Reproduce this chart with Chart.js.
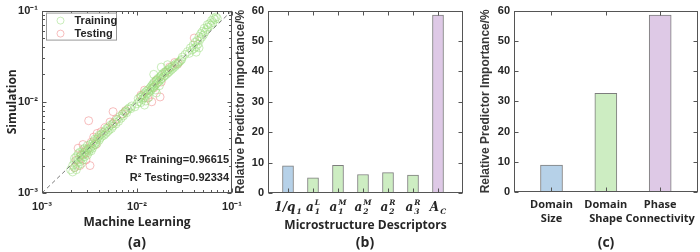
<!DOCTYPE html>
<html>
<head>
<meta charset="utf-8">
<script src="https://cdn.jsdelivr.net/npm/chart.js@4.4.1/dist/chart.umd.min.js"></script>
<style>
  body { margin: 0; background: #fff; }
  #wrap { position: relative; width: 700px; height: 252px; overflow: hidden; }
  canvas { position: absolute; left: 0; top: 0; }
  .tag { position: absolute; top: 232px; width: 60px; text-align: center; font: bold 14px "Open Sans"; color: #262626; }
</style>
</head>
<body>
<div id="wrap">
  <canvas id="ca" width="700" height="252"></canvas>
  <canvas id="cb" width="700" height="252"></canvas>
  <canvas id="cc" width="700" height="252"></canvas>
  <div class="tag" style="left:107px">(a)</div>
  <div class="tag" style="left:335px">(b)</div>
  <div class="tag" style="left:576px">(c)</div>
</div>
<script>
// ---- panel (a) data: [machine learning, simulation]
const trainPts = [
  [0.0020,0.0018],[0.0021,0.0017],[0.0021,0.0020],[0.0022,0.0019],[0.0022,0.0022],[0.0022,0.0024],[0.0023,0.0018],[0.0023,0.0021],
  [0.0023,0.0025],[0.0024,0.0020],[0.0024,0.0023],[0.0024,0.0027],[0.0025,0.0022],[0.0025,0.0025],[0.0025,0.0028],[0.0026,0.0021],
  [0.0026,0.0024],[0.0026,0.0027],[0.0027,0.0023],[0.0027,0.0026],[0.0027,0.0030],[0.0028,0.0025],[0.0028,0.0028],[0.0028,0.0031],
  [0.0029,0.0027],[0.0029,0.0030],[0.0030,0.0026],[0.0030,0.0029],[0.0030,0.0033],[0.0031,0.0028],[0.0031,0.0031],[0.0032,0.0030],
  [0.0032,0.0034],[0.0033,0.0029],[0.0033,0.0032],[0.0034,0.0031],[0.0034,0.0035],[0.0035,0.0033],[0.0035,0.0037],[0.0036,0.0034],
  [0.0036,0.0039],[0.0037,0.0036],[0.0038,0.0035],[0.0038,0.0039],[0.0039,0.0041],[0.0040,0.0038],[0.0040,0.0043],[0.0041,0.0040],
  [0.0042,0.0044],[0.0043,0.0042],[0.0044,0.0046],[0.0045,0.0043],
  [0.0046,0.0048],[0.0047,0.0045],[0.0048,0.0051],[0.0049,0.0047],[0.0050,0.0052],[0.0051,0.0049],[0.0052,0.0055],[0.0054,0.0051],
  [0.0055,0.0057],[0.0056,0.0054],[0.0058,0.0060],[0.0060,0.0057],[0.0062,0.0064],[0.0064,0.0061],[0.0066,0.0069],[0.0068,0.0066],
  [0.0070,0.0073],[0.0072,0.0070],[0.0074,0.0077],[0.0076,0.0079],[0.0078,0.0076],[0.0080,0.0083],[0.0083,0.0086],[0.0086,0.0084],
  [0.0088,0.0090],
  [0.0095,0.0088],[0.0100,0.0095],[0.0103,0.0108],[0.0105,0.0100],[0.0108,0.0112],[0.0110,0.0098],[0.0112,0.0115],[0.0114,0.0106],
  [0.0116,0.0120],[0.0118,0.0110],[0.0120,0.0125],[0.0122,0.0116],[0.0124,0.0102],[0.0125,0.0130],[0.0127,0.0121],[0.0130,0.0135],
  [0.0132,0.0126],[0.0134,0.0112],[0.0136,0.0140],[0.0138,0.0131],[0.0140,0.0146],[0.0142,0.0137],[0.0144,0.0152],[0.0146,0.0142],
  [0.0148,0.0158],[0.0150,0.0146],[0.0152,0.0165],[0.0154,0.0151],[0.0156,0.0135],[0.0158,0.0170],[0.0160,0.0157],[0.0163,0.0176],
  [0.0165,0.0162],[0.0168,0.0182],[0.0170,0.0167],[0.0172,0.0150],[0.0175,0.0188],[0.0178,0.0174],[0.0180,0.0195],[0.0183,0.0180],
  [0.0186,0.0202],[0.0190,0.0187],[0.0193,0.0210],[0.0196,0.0193],[0.0200,0.0215],[0.0204,0.0200],[0.0208,0.0222],[0.0212,0.0207],
  [0.0216,0.0228],[0.0220,0.0215],[0.0225,0.0236],[0.0230,0.0224],[0.0235,0.0245],[0.0240,0.0233],[0.0246,0.0252],[0.0252,0.0244],
  [0.0258,0.0262],[0.0265,0.0256],[0.0272,0.0270],[0.0280,0.0275],[0.0288,0.0283],[0.0296,0.0292],[0.0300,0.0310],
  [0.0180,0.0240],[0.0150,0.0200],[0.0120,0.0092],[0.0160,0.0125],[0.0210,0.0255],
  [0.0320,0.0330],[0.0340,0.0355],[0.0355,0.0340],[0.0365,0.0390],[0.0380,0.0370],[0.0390,0.0420],[0.0400,0.0385],[0.0410,0.0450],
  [0.0420,0.0400],[0.0430,0.0470],[0.0440,0.0430],[0.0450,0.0520],[0.0460,0.0480],[0.0470,0.0560],[0.0480,0.0510],[0.0490,0.0590],
  [0.0500,0.0540],[0.0510,0.0640],[0.0520,0.0580],[0.0540,0.0620],[0.0550,0.0700],[0.0560,0.0660],[0.0580,0.0720],[0.0600,0.0690],
  [0.0610,0.0780],[0.0630,0.0740],[0.0640,0.0830],[0.0660,0.0800],[0.0680,0.0850],[0.0700,0.0820],[0.0420,0.0350],[0.0450,0.0390]
];
const testPts = [
  [0.0022,0.0019],[0.0023,0.0023],[0.0024,0.0031],[0.0025,0.0020],[0.0026,0.0026],[0.0027,0.0034],[0.0028,0.0027],[0.0029,0.0023],
  [0.0030,0.0030],[0.0031,0.0062],[0.0032,0.0020],[0.0033,0.0036],[0.0035,0.0041],[0.0037,0.0034],[0.0038,0.0045],[0.0042,0.0047],
  [0.0046,0.0052],[0.0052,0.0060],[0.0056,0.0058],[0.0056,0.0078],[0.0060,0.0064],[0.0071,0.0074],[0.0076,0.0080],[0.0110,0.0118],
  [0.0120,0.0134],[0.0130,0.0110],[0.0143,0.0100],[0.0150,0.0142],[0.0160,0.0172],[0.0175,0.0113],[0.0180,0.0165],[0.0200,0.0210],
  [0.0220,0.0240],[0.0250,0.0270],[0.0270,0.0262],[0.0400,0.0500]
];
const diagEnds = [0.001, 0.1];
const logTicks = [0.001,0.002,0.003,0.004,0.005,0.006,0.007,0.008,0.009,
                  0.01,0.02,0.03,0.04,0.05,0.06,0.07,0.08,0.09,0.1];
const logTickLabels = ['10⁻³','','','','','','','','','10⁻²','','','','','','','','','10⁻¹'];
const r2Train = '0.96615';
const r2Test = '0.92334';

// ---- panel (b) data
const descLabels = ['1/q_1','a_1^L','a_1^M','a_2^M','a_2^R','a_3^R','A_C'];
const descValues = [8.9, 5.0, 9.1, 6.1, 6.7, 5.9, 58.5];

// ---- panel (c) data
const groupLabels = [['Domain','Size'], ['Domain','Shape'], ['Phase','Connectivity']];
const groupValues = [8.9, 32.6, 58.5];

const pctTicks = [0, 10, 20, 30, 40, 50, 60];

const ink = '#262626';
const blue = '#b6d1e8', green = '#cdedc2', purple = '#dec9e6';
const trainCol = 'rgba(150,220,120,0.5)', testCol = 'rgba(240,125,125,0.5)';
const tickFont = {family: 'Liberation Sans', weight: 'bold', size: 11};
const titleFont = {family: 'Open Sans', weight: 'bold', size: 12};

// box and inward tick marks, MATLAB style
const boxTicks = {
  id: 'boxTicks',
  afterDraw(chart) {
    const {ctx, chartArea: a} = chart;
    const L = Math.round(a.left) + 0.5, R = Math.round(a.right) - 0.5;
    const T = Math.round(a.top) + 0.5, B = Math.round(a.bottom) - 0.5;
    ctx.save();
    ctx.strokeStyle = '#555';
    ctx.lineWidth = 1;
    ctx.beginPath();
    chart.scales.x.ticks.forEach((t, i) => {
      const px = Math.round(chart.scales.x.getPixelForValue(t.value)) + 0.5;
      const len = (chart.scales.x.type === 'logarithmic' && !logTickLabels[i]) ? 2.5 : 4;
      ctx.moveTo(px, B); ctx.lineTo(px, B - len);
      ctx.moveTo(px, T); ctx.lineTo(px, T + len);
    });
    chart.scales.y.ticks.forEach((t, i) => {
      const py = Math.round(chart.scales.y.getPixelForValue(t.value)) + 0.5;
      const len = (chart.scales.y.type === 'logarithmic' && !logTickLabels[i]) ? 2.5 : 4;
      ctx.moveTo(L, py); ctx.lineTo(L + len, py);
      ctx.moveTo(R, py); ctx.lineTo(R - len, py);
    });
    ctx.stroke();
    ctx.strokeRect(L, T, R - L, B - T);
    ctx.restore();
  }
};

// legend + R^2 notes inside panel (a)
const noteA = {
  id: 'noteA',
  afterDraw(chart) {
    const {ctx, chartArea: a} = chart;
    ctx.save();
    const bx = a.left + 4.5, by = a.top + 2.5;
    ctx.fillStyle = '#fff';
    ctx.fillRect(bx, by, 70, 27);
    ctx.strokeStyle = '#999';
    ctx.strokeRect(bx, by, 70, 27);
    const items = [['Training', trainCol], ['Testing', testCol]];
    ctx.font = 'bold 11px "Liberation Sans"';
    ctx.textBaseline = 'middle';
    items.forEach(([txt, col], i) => {
      const y = by + 7.5 + i * 13;
      ctx.beginPath();
      ctx.strokeStyle = col;
      ctx.arc(bx + 14, y, 3.5, 0, Math.PI * 2);
      ctx.stroke();
      ctx.fillStyle = ink;
      ctx.fillText(txt, bx + 28, y);
    });
    ctx.font = 'bold 11px "Liberation Sans"';
    ctx.textAlign = 'right';
    ctx.fillText('R² Training=' + r2Train, a.right - 3, a.bottom - 33);
    ctx.fillText('R² Testing=' + r2Test, a.right - 3, a.bottom - 15);
    ctx.restore();
  }
};

// math-style category labels under panel (b)
const mathLabels = {
  id: 'mathLabels',
  afterDraw(chart) {
    const {ctx, scales: {x}, chartArea: a} = chart;
    ctx.save();
    ctx.fillStyle = ink;
    ctx.textBaseline = 'alphabetic';
    const baseF = 'bold italic 12px "DejaVu Serif"';
    const smallF = 'bold italic 7.5px "DejaVu Serif"';
    descLabels.forEach((lab, i) => {
      const m = lab.match(/^([^_^]+)(?:_([^_^]+))?(?:\^(.+))?$/);
      const base = m[1], sub = m[2] || '', sup = m[3] || '';
      ctx.font = baseF;
      const wb = ctx.measureText(base).width;
      ctx.font = smallF;
      const ws = Math.max(ctx.measureText(sub).width, ctx.measureText(sup).width);
      const cx = x.getPixelForValue(i + 1);
      const x0 = cx - (wb + ws + 1) / 2;
      const yb = a.bottom + 18;
      ctx.font = baseF;
      ctx.fillText(base, x0, yb);
      ctx.font = smallF;
      if (sub) ctx.fillText(sub, x0 + wb + 1, yb + 3);
      if (sup) ctx.fillText(sup, x0 + wb + 1, yb - 6);
    });
    ctx.restore();
  }
};

const pctAxis = (w, pad) => ({
  min: 0, max: 60,
  afterBuildTicks: s => { s.ticks = pctTicks.map(v => ({value: v})); },
  afterFit: s => { s.width = w; },
  grid: {display: false, drawTicks: false},
  border: {display: false},
  ticks: {font: tickFont, color: ink, padding: 4},
  title: {display: true, text: 'Relative Predictor Importance/%', color: '#383838',
          font: {family: 'Liberation Sans', weight: 'bold', size: 12}, padding: {top: pad}}
});

// (a) scatter, log-log
new Chart(document.getElementById('ca'), {
  type: 'scatter',
  data: {
    datasets: [
      {type: 'line', data: diagEnds.map(v => ({x: v, y: v})), borderColor: '#7a7a7a',
       borderDash: [4, 3], borderWidth: 1, pointRadius: 0, order: 0},
      {label: 'Training', data: trainPts.map(p => ({x: p[0], y: p[1]})), pointRadius: 4,
       pointBorderWidth: 1, borderColor: trainCol, backgroundColor: 'rgba(0,0,0,0)', order: 1},
      {label: 'Testing', data: testPts.map(p => ({x: p[0], y: p[1]})), pointRadius: 4,
       pointBorderWidth: 1, borderColor: testCol, backgroundColor: 'rgba(0,0,0,0)', order: 2}
    ]
  },
  options: {
    responsive: false, animation: false, events: [],
    layout: {padding: {left: 0, right: 468, top: 7, bottom: 0}},
    plugins: {legend: {display: false}, tooltip: {enabled: false}},
    scales: {
      x: {type: 'logarithmic', min: 0.001, max: 0.1,
          afterBuildTicks: s => { s.ticks = logTicks.map(v => ({value: v})); },
          afterFit: s => { s.height = 59; },
          grid: {display: false, drawTicks: false}, border: {display: false},
          ticks: {autoSkip: false, maxRotation: 0, font: tickFont, color: ink, padding: 7,
                  callback: (v, i) => logTickLabels[i]},
          title: {display: true, text: 'Machine Learning', font: titleFont, color: ink, padding: {bottom: 22}}},
      y: {type: 'logarithmic', min: 0.001, max: 0.1,
          afterBuildTicks: s => { s.ticks = logTicks.map(v => ({value: v})); },
          afterFit: s => { s.width = 42; },
          grid: {display: false, drawTicks: false}, border: {display: false},
          ticks: {autoSkip: false, font: tickFont, color: ink, padding: 4,
                  callback: (v, i) => logTickLabels[i]},
          title: {display: true, text: 'Simulation', font: titleFont, color: ink, padding: {top: 5}}}
    }
  },
  plugins: [boxTicks, noteA]
});

// (b) descriptor importance
new Chart(document.getElementById('cb'), {
  type: 'bar',
  data: {
    datasets: [{data: descValues.map((v, i) => ({x: i + 1, y: v})),
                backgroundColor: [blue, green, green, green, green, green, purple],
                borderColor: '#7d7d7d', borderWidth: 1, barThickness: 11}]
  },
  options: {
    responsive: false, animation: false, events: [],
    layout: {padding: {left: 232, right: 237, top: 7, bottom: 0}},
    plugins: {legend: {display: false}, tooltip: {enabled: false}},
    scales: {
      x: {type: 'linear', min: 0.2, max: 8, offset: false,
          afterBuildTicks: s => { s.ticks = descValues.map((v, i) => ({value: i + 1})); },
          afterFit: s => { s.height = 59; },
          grid: {display: false, drawTicks: false}, border: {display: false},
          ticks: {display: false},
          title: {display: true, text: 'Microstructure Descriptors', font: titleFont, color: ink, padding: {bottom: 19}}},
      y: pctAxis(36, 1)
    }
  },
  plugins: [boxTicks, mathLabels]
});

// (c) grouped importance
new Chart(document.getElementById('cc'), {
  type: 'bar',
  data: {
    datasets: [{data: groupValues.map((v, i) => ({x: i + 1, y: v})),
                backgroundColor: [blue, green, purple],
                borderColor: '#7d7d7d', borderWidth: 1, barThickness: 22}]
  },
  options: {
    responsive: false, animation: false, events: [],
    layout: {padding: {left: 477, right: 1, top: 7, bottom: 0}},
    plugins: {legend: {display: false}, tooltip: {enabled: false}},
    scales: {
      x: {type: 'linear', min: 0.31, max: 3.69, offset: false,
          afterBuildTicks: s => { s.ticks = groupValues.map((v, i) => ({value: i + 1})); },
          afterFit: s => { s.height = 60; },
          grid: {display: false, drawTicks: false}, border: {display: false},
          ticks: {autoSkip: false, maxRotation: 0, color: ink, padding: 5,
                  font: {family: 'Open Sans', weight: 'bold', size: 11, lineHeight: 1.35},
                  callback: (v, i) => groupLabels[i]}},
      y: pctAxis(37, 1)
    }
  },
  plugins: [boxTicks]
});
</script>
</body>
</html>
